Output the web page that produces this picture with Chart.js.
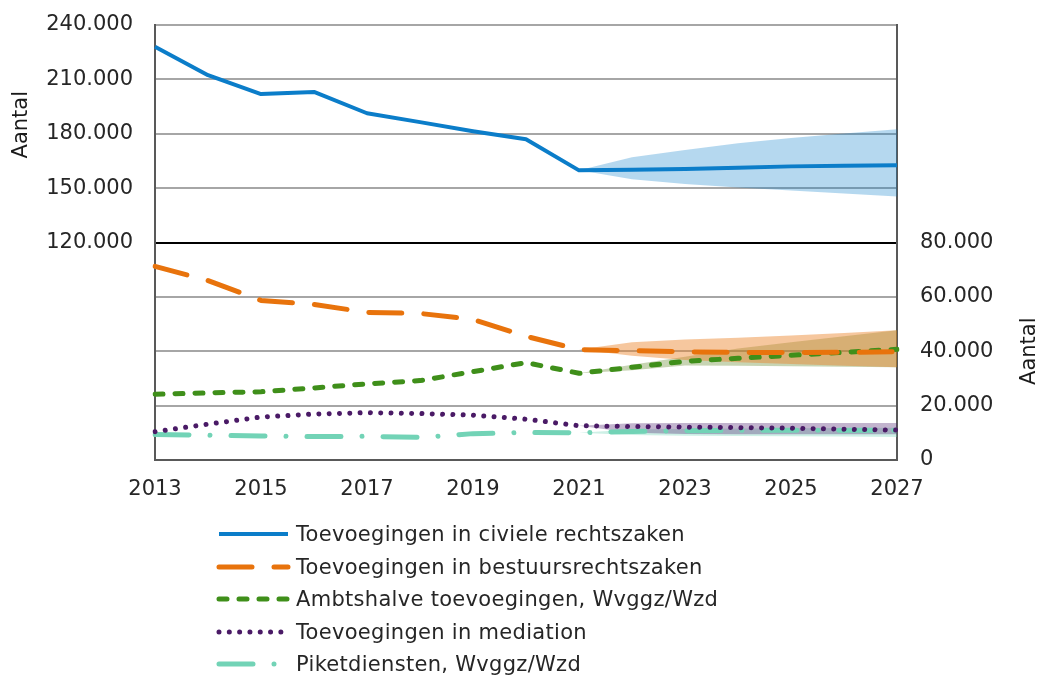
<!DOCTYPE html>
<html>
<head>
<meta charset="utf-8">
<script src="https://cdn.jsdelivr.net/npm/chart.js@4"></script>
<style>
  body { margin: 0; background: #fff; font-family: "DejaVu Sans", Verdana, sans-serif; }
  #wrap { position: relative; width: 1039px; height: 520px; }
  #legend { position: absolute; left: 216px; top: 518px; }
  .row { display: flex; align-items: center; height: 32.5px; }
  .row svg { width: 80px; height: 12px; flex: none; }
  .row span { font-size: 21px; letter-spacing: 0.3px; color: #262626; white-space: nowrap; }
</style>
</head>
<body>
<div id="wrap"><canvas id="prognose"></canvas></div>
<div id="legend"></div>
<script>
const years = ["2013", "2014", "2015", "2016", "2017", "2018", "2019", "2020",
  "2021", "2022", "2023", "2024", "2025", "2026", "2027"];

const civiel = [228000, 212300, 201900, 203100, 191300, 186400, 181400, 177000,
  159800, 160200, 160600, 161200, 162000, 162300, 162600];
const civielHoog = [null, null, null, null, null, null, null, null,
  159800, 167000, 171000, 174700, 177700, 180200, 182500];
const civielLaag = [null, null, null, null, null, null, null, null,
  159800, 154900, 152300, 150400, 148700, 147100, 145400];

const bestuur = [71200, 66000, 58700, 57200, 54300, 53900, 51700, 45500,
  40600, 40200, 39800, 39600, 39500, 39600, 39800];
const bestuurHoog = [null, null, null, null, null, null, null, null,
  40600, 43300, 44300, 45000, 45800, 46700, 47700];
const bestuurLaag = [null, null, null, null, null, null, null, null,
  40600, 38300, 36800, 36000, 35300, 34700, 34100];

const ambtshalve = [24200, 24700, 25100, 26500, 28000, 29200, 32500, 35800,
  31900, 34100, 36300, 37400, 38500, 39600, 40700];
const ambtshalveHoog = [null, null, null, null, null, null, null, null,
  31900, 35000, 38000, 41000, 43300, 45500, 47700];
const ambtshalveLaag = [null, null, null, null, null, null, null, null,
  31900, 33000, 34800, 34700, 34500, 34300, 34100];

const mediation = [10400, 13200, 15800, 16900, 17400, 17100, 16500, 15000,
  12600, 12300, 12100, 11900, 11700, 11300, 11000];
const mediationHoog = [null, null, null, null, null, null, null, null,
  12600, 13500, 13600, 13600, 13600, 13600, 13600];
const mediationLaag = [null, null, null, null, null, null, null, null,
  12600, 10000, 9600, 9500, 9500, 9500, 9500];

const piket = [9400, 9100, 8800, 8600, 8700, 8300, 9700, 10100,
  10000, 10500, 10800, 10900, 10900, 10900, 10900];
const piketHoog = [null, null, null, null, null, null, null, null,
  10000, 11200, 11500, 11600, 11700, 11800, 11900];
const piketLaag = [null, null, null, null, null, null, null, null,
  10000, 9200, 8900, 8800, 8700, 8600, 8500];

const tickColor = "#262626";
const axisColor = "#595959";
const tickFont = { family: "DejaVu Sans", size: 21 };

// thousands separator with a dot
const fmt = (v) => String(v).replace(/\B(?=(\d{3})+(?!\d))/g, ".");

const series = [
  { label: "Toevoegingen in civiele rechtszaken", data: civiel, axis: "yLinks",
    color: "#0b7dc9", width: 4, dash: [] },
  { label: "Toevoegingen in bestuursrechtszaken", data: bestuur, axis: "yRechts",
    color: "#e8730c", width: 5, dash: [33, 22] },
  { label: "Ambtshalve toevoegingen, Wvggz/Wzd", data: ambtshalve, axis: "yRechts",
    color: "#3f8f1a", width: 5, dash: [8, 12] },
  { label: "Toevoegingen in mediation", data: mediation, axis: "yRechts",
    color: "#4a1a66", width: 5, dash: [0.01, 10.3] },
  { label: "Piketdiensten, Wvggz/Wzd", data: piket, axis: "yRechts",
    color: "#72d3b6", width: 5, dash: [34, 21, 0.01, 21] },
];

const bands = [
  { hoog: civielHoog, laag: civielLaag, axis: "yLinks", fill: "rgba(11,125,201,0.3)" },
  { hoog: bestuurHoog, laag: bestuurLaag, axis: "yRechts", fill: "rgba(236,130,40,0.45)" },
  { hoog: ambtshalveHoog, laag: ambtshalveLaag, axis: "yRechts", fill: "rgba(80,120,20,0.32)" },
  { hoog: mediationHoog, laag: mediationLaag, axis: "yRechts", fill: "rgba(80,40,115,0.35)" },
  { hoog: piketHoog, laag: piketLaag, axis: "yRechts", fill: "rgba(114,211,182,0.35)" },
];

const datasets = [];
series.forEach((s) => {
  datasets.push({
    label: s.label,
    data: s.data,
    yAxisID: s.axis,
    borderColor: s.color,
    borderWidth: s.width,
    borderDash: s.dash,
    borderCapStyle: s.dash.length ? "round" : "butt",
    borderJoinStyle: "round",
    pointRadius: 0,
    fill: false,
    order: 0,
  });
});
bands.forEach((b) => {
  datasets.push({
    data: b.hoog, yAxisID: b.axis, borderColor: "transparent", borderWidth: 0,
    pointRadius: 0, backgroundColor: b.fill, fill: "+1", order: 1,
  });
  datasets.push({
    data: b.laag, yAxisID: b.axis, borderColor: "transparent", borderWidth: 0,
    pointRadius: 0, fill: false, order: 1,
  });
});

// "Aantal" titles, each centred on its own half of the chart
const aantalTitels = {
  id: "aantalTitels",
  afterDraw(chart) {
    const { ctx, scales } = chart;
    ctx.save();
    ctx.font = '21px "DejaVu Sans"';
    ctx.fillStyle = "#1a1a1a";
    ctx.textAlign = "center";
    ctx.textBaseline = "middle";
    [[22, scales.yLinks.getPixelForValue(185000)],
     [1030, scales.yRechts.getPixelForValue(40000)]].forEach(([x, y]) => {
      ctx.save();
      ctx.translate(x, y);
      ctx.rotate(-Math.PI / 2);
      ctx.fillText("Aantal", 0, 0);
      ctx.restore();
    });
    ctx.restore();
  },
};

// fixed box sizes so the plot area sits at 155..897 x 25..460
const fixY = (w) => (s) => { s.width = w; s.paddingTop = 0; s.paddingBottom = 0; };

new Chart(document.getElementById("prognose"), {
  type: "line",
  data: { labels: years, datasets: datasets },
  plugins: [aantalTitels],
  options: {
    responsive: true,
    maintainAspectRatio: false,
    animation: false,
    layout: { padding: { top: 25, left: 0, right: 0, bottom: 0 } },
    plugins: { legend: { display: false }, tooltip: { enabled: false } },
    scales: {
      x: {
        grid: { display: false, drawTicks: false },
        border: { color: axisColor, width: 2 },
        ticks: {
          autoSkip: false, maxRotation: 0, padding: 17, color: tickColor, font: tickFont,
          callback: (v, i) => (i % 2 === 0 ? years[i] : ""),
        },
        afterFit: (s) => { s.height = 60; s.paddingLeft = 0; s.paddingRight = 0; },
      },
      yLinks: {
        position: "left", min: 0, max: 240000,
        grid: {
          drawTicks: false, lineWidth: 2,
          color: (c) => c.tick.value === 120000 ? "#000" : c.tick.value === 0 ? "transparent" : "#a6a6a6",
        },
        border: { color: axisColor, width: 2 },
        ticks: {
          stepSize: 30000, padding: 22, color: tickColor, font: tickFont,
          callback: (v) => (v >= 120000 ? fmt(v) : ""),
        },
        afterFit: fixY(155),
      },
      yRechts: {
        position: "right", min: 0, max: 160000,
        grid: { drawOnChartArea: false, drawTicks: false },
        border: { color: axisColor, width: 2 },
        ticks: {
          stepSize: 20000, padding: 23, color: tickColor, font: tickFont,
          callback: (v) => (v <= 80000 ? fmt(v) : ""),
        },
        afterFit: fixY(142),
      },
    },
  },
});

// legend below the chart, one row per series
const legend = document.getElementById("legend");
series.forEach((s) => {
  const row = document.createElement("div");
  row.className = "row";
  const cap = s.dash.length ? "round" : "butt";
  row.innerHTML =
    '<svg viewBox="0 0 80 12"><line x1="3" y1="6" x2="72" y2="6" stroke="' + s.color +
    '" stroke-width="' + s.width + '" stroke-linecap="' + cap + '" stroke-dasharray="' +
    (s.dash.length ? s.dash.join(" ") : "none") + '"/></svg>';
  const text = document.createElement("span");
  text.textContent = s.label;
  row.appendChild(text);
  legend.appendChild(row);
});
</script>
</body>
</html>
